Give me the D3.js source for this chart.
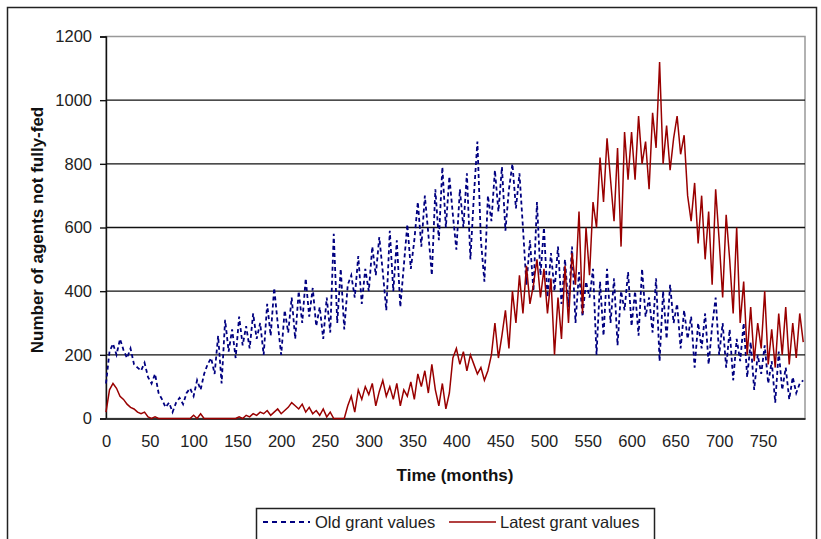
<!DOCTYPE html>
<html>
<head>
<meta charset="utf-8">
<script src="https://cdn.jsdelivr.net/npm/d3@7"></script>
<style>
  body { margin: 0; background: #fff; }
  svg { display: block; font-family: "Liberation Sans", Arial, sans-serif; }
</style>
</head>
<body>
<svg id="chart" width="821" height="539"></svg>
<script>
// ---- data (sampled every 4 months) ----
const monthStep = 4;
const oldGrant = [
  110, 210, 235, 200, 250, 215, 190, 220, 170, 160,
  150, 175, 130, 110, 140, 80, 60, 35, 50, 20,
  50, 65, 45, 80, 95, 70, 120, 90, 140, 170,
  190, 140, 260, 110, 310, 210, 280, 190, 320, 230,
  290, 220, 330, 250, 300, 200, 360, 260, 410, 300,
  200, 340, 270, 380, 250, 400, 300, 440, 320, 410,
  290, 350, 250, 380, 270, 580, 300, 470, 280, 420,
  450, 380, 510, 360, 470, 400, 540, 450, 570, 460,
  340, 590, 400, 560, 350, 480, 610, 470, 560, 680,
  540, 700, 580, 450, 720, 560, 790, 600, 760, 640,
  530, 720, 600, 770, 500, 700, 870, 560, 430, 700,
  620, 780, 650, 790, 590, 720, 800, 660, 770, 600,
  420, 560, 400, 680, 450, 600, 380, 520, 400, 540,
  360, 500, 350, 540, 300, 460, 320, 430, 380, 470,
  200, 430, 260, 470, 300, 440, 230, 400, 340, 460,
  290, 400, 260, 470, 320, 380, 270, 440, 180, 400,
  250, 420, 300, 360, 220, 340, 250, 320, 160, 300,
  220, 330, 170, 290, 380, 200, 300, 160, 280, 120,
  250, 180, 300, 130, 240, 90, 200, 140, 230, 110,
  180, 50, 210, 90, 160, 60, 130, 80, 110, 120
];
const latestGrant = [
  20, 90, 110, 95, 70, 60, 45, 35, 30, 20,
  15, 20, 5, 0, 5, 0, 0, 0, 0, 0,
  0, 0, 0, 0, 0, 10, 0, 15, 0, 0,
  0, 0, 0, 0, 0, 0, 0, 0, 5, 0,
  10, 5, 15, 10, 20, 15, 25, 10, 20, 30,
  15, 25, 35, 50, 40, 30, 45, 20, 35, 15,
  25, 10, 30, 5, 20, 0, 0, 0, 0, 40,
  70, 20, 90, 60, 100, 75, 110, 40, 85, 120,
  70, 100, 60, 110, 40, 90, 70, 115, 60, 140,
  100, 150, 80, 170, 90, 40, 110, 30, 80, 190,
  220, 170, 210, 150, 200, 170, 140, 160, 120, 150,
  200, 300, 190, 260, 340, 220, 400, 300, 450, 330,
  480, 360, 420, 500, 380, 470, 330, 440, 200, 380,
  250, 480, 300, 520, 420, 650, 330, 600, 450, 680,
  600, 820, 680, 880, 750, 620, 850, 540, 900, 750,
  900, 750, 950, 800, 870, 720, 960, 850, 1120, 800,
  920, 780, 880, 950, 830, 890, 700, 620, 740, 550,
  700, 500, 650, 420, 720, 560, 380, 640, 500, 330,
  600, 300, 430, 200, 350, 180, 300, 220, 400, 170,
  280, 160, 330, 200, 350, 170, 300, 190, 330, 240
];
const months = oldGrant.map((_, i) => i * monthStep);
const xTicks = [0, 50, 100, 150, 200, 250, 300, 350, 400, 450, 500, 550, 600, 650, 700, 750];
const yTicks = [0, 200, 400, 600, 800, 1000, 1200];
const seriesNames = ["Old grant values", "Latest grant values"];

// ---- layout ----
const svg = d3.select("#chart");
const plot = { left: 106, right: 805, top: 36.5, bottom: 418.5 };
const x = d3.scaleLinear().domain([0, 798]).range([plot.left, plot.right]);
const y = d3.scaleLinear().domain([0, 1200]).range([plot.bottom, plot.top]);

// outer frame
svg.append("rect").attr("x", 7.5).attr("y", 7.5).attr("width", 809).attr("height", 540)
  .attr("fill", "#fff").attr("stroke", "#222").attr("stroke-width", 1.5);

// plot area border (gray)
svg.append("rect").attr("x", plot.left).attr("y", plot.top)
  .attr("width", plot.right - plot.left).attr("height", plot.bottom - plot.top)
  .attr("fill", "#fff").attr("stroke", "#999").attr("stroke-width", 1.5);

// gridlines
svg.append("g").selectAll("line").data(yTicks.filter(d => d > 0 && d < 1200)).join("line")
  .attr("x1", plot.left).attr("x2", plot.right)
  .attr("y1", d => y(d)).attr("y2", d => y(d))
  .attr("stroke", "#111").attr("stroke-width", 1.4);

// y axis
const yAxis = svg.append("g").attr("transform", `translate(${plot.left},0)`)
  .call(d3.axisLeft(y).tickValues(yTicks).tickSize(6).tickPadding(8).tickFormat(d3.format("d")));
yAxis.select(".domain").attr("stroke", "#111").attr("stroke-width", 1.4);
yAxis.selectAll(".tick line").attr("stroke", "#111").attr("stroke-width", 1.4);
yAxis.selectAll(".tick text").attr("font-size", 16.5).attr("fill", "#222")
  .attr("font-family", "Liberation Sans, Arial, sans-serif");

// x axis
const xAxis = svg.append("g").attr("transform", `translate(0,${plot.bottom})`)
  .call(d3.axisBottom(x).tickValues(xTicks).tickSize(0).tickPadding(17).tickFormat(d3.format("d")));
xAxis.select(".domain").attr("stroke", "#333").attr("stroke-width", 1.8);
xAxis.selectAll(".tick text").attr("font-size", 16.5).attr("fill", "#222")
  .attr("font-family", "Liberation Sans, Arial, sans-serif");

// series
const line = d3.line().x((d, i) => x(months[i])).y(d => y(d));
svg.append("path").datum(oldGrant).attr("d", line)
  .attr("fill", "none").attr("stroke", "#000080").attr("stroke-width", 1.8)
  .attr("stroke-dasharray", "4,3");
svg.append("path").datum(latestGrant).attr("d", line)
  .attr("fill", "none").attr("stroke", "#990000").attr("stroke-width", 1.5);

// axis titles
svg.append("text").attr("x", 455).attr("y", 481).attr("text-anchor", "middle")
  .attr("font-size", 17).attr("font-weight", "bold").attr("fill", "#111")
  .text("Time (months)");
svg.append("text").attr("transform", "translate(43,230) rotate(-90)")
  .attr("text-anchor", "middle").attr("font-size", 17).attr("font-weight", "bold").attr("fill", "#111")
  .text("Number of agents not fully-fed");

// legend
const lg = svg.append("g");
lg.append("rect").attr("x", 256.5).attr("y", 508.5).attr("width", 398).attr("height", 40)
  .attr("fill", "#fff").attr("stroke", "#222").attr("stroke-width", 1.5);
lg.append("line").attr("x1", 263).attr("x2", 310).attr("y1", 522).attr("y2", 522)
  .attr("stroke", "#000080").attr("stroke-width", 1.8).attr("stroke-dasharray", "5,4");
lg.append("text").attr("x", 315).attr("y", 528).attr("font-size", 16.5).attr("fill", "#222")
  .text(seriesNames[0]);
lg.append("line").attr("x1", 449).attr("x2", 496).attr("y1", 522).attr("y2", 522)
  .attr("stroke", "#990000").attr("stroke-width", 1.5);
lg.append("text").attr("x", 500).attr("y", 528).attr("font-size", 16.5).attr("fill", "#222")
  .text(seriesNames[1]);
</script>
</body>
</html>
